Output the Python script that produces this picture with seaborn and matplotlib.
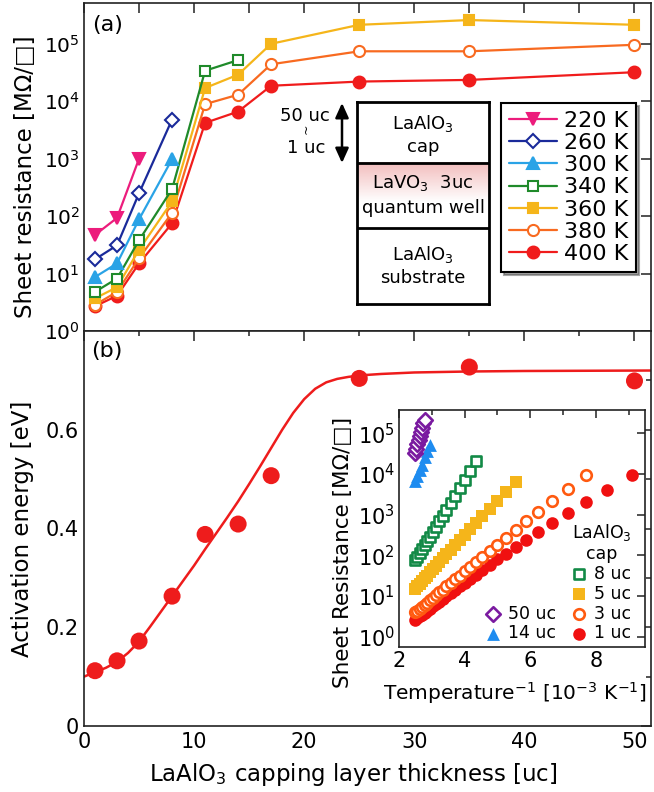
import numpy as np
import pandas as pd
import matplotlib
matplotlib.use("Agg")
import matplotlib.pyplot as plt
import seaborn as sns
from matplotlib.colors import LinearSegmentedColormap
from matplotlib.ticker import NullLocator

# ---------------- data ----------------
thickness = [1, 3, 5, 8, 11, 14, 17, 25, 35, 50]
temps = ["220 K", "260 K", "300 K", "340 K", "360 K", "380 K", "400 K"]
R_220K = [47, 93, 1000]
R_260K = [17.7, 31, 250, 4800]
R_300K = [8.7, 15, 88, 980]
R_340K = [4.8, 8.2, 38, 295, 34000, 52000]
R_360K = [3.7, 5.8, 26, 180, 17000, 29000, 100000, 214000, 259000, 214000]
R_380K = [2.85, 4.8, 18.5, 114, 8900, 13000, 44000, 74000, 74000, 96000]
R_400K = [2.7, 4.1, 15, 75, 4200, 6600, 18600, 22000, 23500, 32000]

Ea = [0.112, 0.132, 0.172, 0.263, 0.388, 0.409, 0.507, 0.704, 0.727, 0.699]
fit_x = [0, 1, 2, 3, 4, 5, 6, 7, 8, 9, 10, 11, 12, 13, 14, 15, 16, 17, 18, 19, 20, 21, 22,
         23, 24, 25, 27, 30, 35, 40, 52]
fit_y = [0.100, 0.109, 0.118, 0.130, 0.148, 0.171, 0.201, 0.232, 0.263, 0.294, 0.325, 0.358,
         0.390, 0.422, 0.455, 0.490, 0.526, 0.563, 0.600, 0.634, 0.662, 0.683, 0.696, 0.703,
         0.707, 0.710, 0.713, 0.716, 0.718, 0.719, 0.720]

inv_T = [2.500, 2.564, 2.632, 2.703, 2.778, 2.857, 2.941, 3.030, 3.125, 3.226, 3.333, 3.448,
         3.571, 3.704, 3.846, 4.000, 4.167, 4.348, 4.545, 4.762, 5.000, 5.263, 5.556, 5.882,
         6.250, 6.667, 7.143, 7.692, 8.333, 9.091]
inv_T_50 = [2.500, 2.532, 2.564, 2.597, 2.632, 2.667, 2.703, 2.740, 2.778]
R_1uc = [2.63, 2.88, 3.18, 3.52, 3.91, 4.38, 4.93, 5.59, 6.39, 7.36, 8.54, 10.0, 11.9, 14.2,
         17.3, 21.3, 26.6, 33.9, 43.9, 58.3, 79.4, 111, 161, 241, 378, 624, 1089, 2037, 4130, 9230]
R_3uc = [3.98, 4.40, 4.89, 5.47, 6.15, 6.95, 7.92, 9.10, 10.5, 12.3, 14.5, 17.4, 21.0, 25.7,
         32.0, 40.5, 52.2, 68.7, 92.6, 128, 184, 272, 420, 680, 1168, 2144, 4265, 9355]
R_5uc = [15.1, 17.3, 20.0, 23.2, 27.1, 31.9, 38.0, 45.6, 55.5, 68.2, 84.8, 107, 137, 179, 237,
         322, 447, 635, 928, 1405, 2202, 3595, 6163]
R_8uc = [75.9, 92.1, 113, 140, 176, 224, 288, 378, 503, 683, 945, 1338, 1943, 2906, 4467,
         7120, 11810, 20420]
R_14uc = [6600, 8900, 12300, 17000, 26300, 36000, 52500]
R_50uc = [32000, 41700, 53700, 67600, 87100, 110000, 138000, 174000, 214000]

# ---------------- style ----------------
sns.set_theme(style="white")
plt.rcParams['font.family'] = ['DejaVu Sans']
plt.rcParams['mathtext.fontset'] = 'dejavusans'
plt.rcParams['axes.linewidth'] = 1.2
plt.rcParams['axes.edgecolor'] = '#222222'
plt.rcParams['text.color'] = 'black'
plt.rcParams['axes.labelcolor'] = 'black'
plt.rcParams['xtick.color'] = '#222222'
plt.rcParams['ytick.color'] = '#222222'
plt.rcParams['xtick.labelcolor'] = 'black'
plt.rcParams['ytick.labelcolor'] = 'black'
plt.rcParams['xtick.direction'] = 'in'
plt.rcParams['ytick.direction'] = 'in'

RED = '#ee1c1c'
style_a = {
    "220 K": dict(color='#ec1c7c', marker='v', fc='#ec1c7c', ms=8.5),
    "260 K": dict(color='#1a2a9a', marker='D', fc='white', ms=7),
    "300 K": dict(color='#2aa3e6', marker='^', fc='#2aa3e6', ms=8.5),
    "340 K": dict(color='#1f8a2a', marker='s', fc='white', ms=7.5),
    "360 K": dict(color='#f5b51a', marker='s', fc='#f5b51a', ms=7.5),
    "380 K": dict(color='#f86a20', marker='o', fc='white', ms=8),
    "400 K": dict(color='#f01c1c', marker='o', fc='#f01c1c', ms=8.5),
}
series_a = {"220 K": R_220K, "260 K": R_260K, "300 K": R_300K, "340 K": R_340K,
            "360 K": R_360K, "380 K": R_380K, "400 K": R_400K}

W, H = 654, 792
fig = plt.figure(figsize=(W / 100, H / 100), dpi=100)
L, Rr = 84, 651
axA = fig.add_axes([L / W, 1 - 331 / H, (Rr - L) / W, 328 / H])
axB = fig.add_axes([L / W, 1 - 726 / H, (Rr - L) / W, 395 / H])

# ---------------- panel (a) ----------------
axA.set_yscale('log')
for lab in reversed(temps):
    st = style_a[lab]
    vals = series_a[lab]
    sns.lineplot(x=thickness[:len(vals)], y=vals, ax=axA, color=st['color'], marker=st['marker'],
                 markersize=st['ms'], markerfacecolor=st['fc'], markeredgecolor=st['color'],
                 markeredgewidth=1.5, linewidth=1.6, label=lab, sort=False, estimator=None)
axA.set_xlim(0, 51.5)
axA.set_ylim(1, 10 ** 5.71)
axA.set_xticks(range(0, 55, 5))
axA.xaxis.set_minor_locator(NullLocator())
axA.set_yticks([1, 10, 100, 1e3, 1e4, 1e5])
axA.yaxis.set_minor_locator(NullLocator())
axA.tick_params(which='both', direction='in', top=True, right=True, labelbottom=False,
                length=7, width=1.1, labelsize=14.5, pad=3)
axA.set_ylabel("Sheet resistance [MΩ/□]", fontsize=16.5)
axA.yaxis.set_label_coords(-0.083, 0.47)
axA.set_xlabel("")
axA.text(0.041, 0.933, "(a)", transform=axA.transAxes, fontsize=16, ha='center', va='center')

h, l = axA.get_legend_handles_labels()
hd = dict(zip(l, h))
leg = axA.legend([hd[t] for t in temps], temps, loc='upper left', bbox_to_anchor=(0.735, 0.695),
                 frameon=True, fancybox=False, shadow=True, edgecolor='black', framealpha=1,
                 fontsize=16, handlelength=2.2, handletextpad=0.3, labelspacing=0.1,
                 borderpad=0.35, borderaxespad=0)
leg.get_frame().set_linewidth(1.5)

# schematic
axS = fig.add_axes([357 / W, 1 - 304 / H, 132 / W, 202 / H])
cmap = LinearSegmentedColormap.from_list('pinkfade', [(0, '#ffffff'), (0.4, '#ffffff'), (1, '#f2bcbc')])
axS.imshow(np.linspace(0, 1, 256).reshape(-1, 1), extent=(0, 1, 0.376, 0.698), origin='lower',
           aspect='auto', cmap=cmap, interpolation='bilinear')
axS.set_xlim(0, 1)
axS.set_ylim(0, 1)
axS.set_xticks([])
axS.set_yticks([])
for sp in axS.spines.values():
    sp.set_linewidth(2)
    sp.set_color('black')
axS.axhline(0.376, color='black', lw=2)
axS.axhline(0.698, color='black', lw=2)
for y, t in [(0.895, "LaAlO$_3$"), (0.775, "cap"), (0.598, "LaVO$_3$  3uc"), (0.475, "quantum well"),
             (0.243, "LaAlO$_3$"), (0.128, "substrate")]:
    axS.text(0.5, y, t, ha='center', va='center', fontsize=13, transform=axS.transAxes)

axA.annotate("", xy=(342 / W, 1 - 103 / H), xytext=(342 / W, 1 - 163 / H),
             xycoords='figure fraction', textcoords='figure fraction',
             arrowprops=dict(arrowstyle='<|-|>,head_length=0.55,head_width=0.25', color='black',
                             lw=1.8, mutation_scale=16, shrinkA=0, shrinkB=0))
fig.text(305 / W, 1 - 116 / H, "50 uc", ha='center', va='center', fontsize=13)
fig.text(306 / W, 1 - 129 / H, "~", ha='center', va='center', fontsize=9, rotation=90)
fig.text(306 / W, 1 - 148 / H, "1 uc", ha='center', va='center', fontsize=13)

# ---------------- panel (b) ----------------
sns.lineplot(x=fit_x, y=fit_y, ax=axB, color=RED, linewidth=1.8, sort=False, estimator=None)
sns.scatterplot(x=thickness, y=Ea, ax=axB, color=RED, s=150, edgecolor='none', linewidth=0, zorder=3)
axB.set_xlim(0, 51.5)
axB.set_ylim(0, 0.8)
axB.set_xticks(range(0, 51, 10))
axB.set_xticks(range(5, 50, 10), minor=True)
axB.set_yticks([0, 0.2, 0.4, 0.6])
axB.set_yticklabels(['0', '0.2', '0.4', '0.6'])
axB.set_yticks([0.1, 0.3, 0.5, 0.7], minor=True)
axB.tick_params(which='both', direction='in', top=True, right=True, width=1.1, labelsize=15)
axB.tick_params(which='major', length=7, pad=4)
axB.tick_params(which='minor', length=3.5)
axB.set_ylabel("Activation energy [eV]", fontsize=16.5)
axB.yaxis.set_label_coords(-0.088, 0.5)
axB.set_xlabel("LaAlO$_3$ capping layer thickness [uc]", fontsize=16.5)
axB.xaxis.set_label_coords(0.475, -0.088)
axB.text(0.041, 0.949, "(b)", transform=axB.transAxes, fontsize=16, ha='center', va='center')

# ---------------- inset ----------------
axI = fig.add_axes([399 / W, 1 - 647 / H, 246 / W, 237 / H])
axI.set_facecolor('white')
axI.set_yscale('log')
inset_series = [
    ("1 uc", inv_T, R_1uc, dict(marker='o', color='#f01010', edgecolor='#f01010', s=82, linewidth=0)),
    ("3 uc", inv_T, R_3uc, dict(marker='o', color='white', edgecolor='#ff5a10', s=58, linewidth=1.9)),
    ("5 uc", inv_T, R_5uc, dict(marker='s', color='#f5b51a', edgecolor='#f5b51a', s=70, linewidth=0)),
    ("8 uc", inv_T, R_8uc, dict(marker='s', color='white', edgecolor='#128a46', s=52, linewidth=1.9)),
    ("14 uc", inv_T, R_14uc, dict(marker='^', color='#1e8cf0', edgecolor='#1e8cf0', s=85, linewidth=0)),
    ("50 uc", inv_T_50, R_50uc, dict(marker='D', color='white', edgecolor='#7a1aa0', s=55, linewidth=1.9)),
]
for lab, xs, ys, kw in inset_series:
    sns.scatterplot(x=xs[:len(ys)], y=ys, ax=axI, label=lab, zorder=3, **kw)
axI.set_xlim(2, 9.5)
axI.set_ylim(10 ** -0.25, 10 ** 5.57)
axI.set_xticks([2, 4, 6, 8])
axI.set_xticks([3, 5, 7, 9], minor=True)
axI.set_yticks([1, 10, 100, 1e3, 1e4, 1e5])
axI.yaxis.set_minor_locator(NullLocator())
axI.tick_params(which='both', direction='in', top=True, right=True, width=1.1, labelsize=15, pad=3)
axI.tick_params(which='major', length=6)
axI.tick_params(which='minor', length=3.5)
axI.set_ylabel("Sheet Resistance [MΩ/□]", fontsize=15.5)
axI.yaxis.set_label_coords(-0.187, 0.397)
axI.set_xlabel("Temperature$^{-1}$ [10$^{-3}$ K$^{-1}$]", fontsize=14.5)
axI.xaxis.set_label_coords(0.47, -0.14)

hi, li = axI.get_legend_handles_labels()
hdi = dict(zip(li, hi))
right_labels = ["8 uc", "5 uc", "3 uc", "1 uc"]
legR = axI.legend([hdi[k] for k in right_labels], right_labels, title="LaAlO$_3$\ncap",
                  loc='lower right', bbox_to_anchor=(0.945, 0.02), frameon=False, fontsize=12.5,
                  title_fontsize=12.5, handlelength=0.8, handletextpad=0.5, labelspacing=0.1,
                  borderpad=0, borderaxespad=0)
legR.get_title().set_multialignment('center')
axI.add_artist(legR)
left_labels = ["50 uc", "14 uc"]
legL = axI.legend([hdi[k] for k in left_labels], left_labels, loc='lower right',
                  bbox_to_anchor=(0.64, 0.02), frameon=False, fontsize=12.5, handlelength=0.8,
                  handletextpad=0.5, labelspacing=0.1, borderpad=0, borderaxespad=0)

fig.savefig("out.png", dpi=100)
